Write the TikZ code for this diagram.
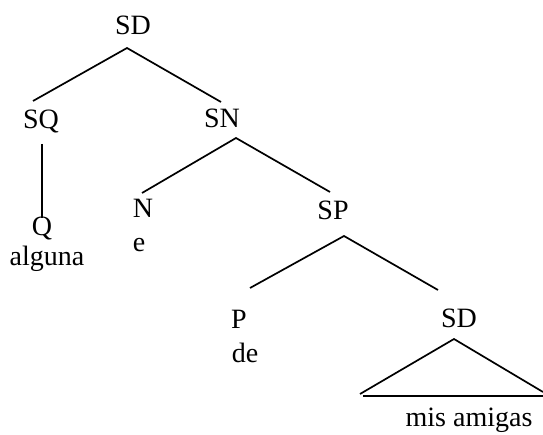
\documentclass[tikz,border=0pt]{standalone}
\usepackage{fontspec}
\setmainfont{Liberation Serif}
\usetikzlibrary{calc}
\begin{document}
\begin{tikzpicture}[x=1pt,y=-1pt,
  lab/.style={anchor=base,inner sep=0pt,font=\fontsize{28}{34}\selectfont},
  edge/.style={line width=1.7pt}]
\useasboundingbox (0,0) rectangle (543,435);
\node[lab] (SDa) at (133,35) {SD};
\node[lab] (SQ) at (41,129) {SQ};
\node[lab] (SN) at (222,128) {SN};
\node[lab] (Q) at (42,236) {Q};
\node[lab] (alg) at (47,266) {alguna};
\node[lab] (N) at (143,218) {N};
\node[lab] (e) at (139,252) {e};
\node[lab] (SP) at (333,220) {SP};
\node[lab] (P) at (239,328) {P};
\node[lab] (de) at (245,362) {de};
\node[lab] (SDb) at (459,327) {SD};
\node[lab] (mis) at (469,426) {mis amigas};
% SD -> SQ, SN
\draw[edge] ($(SQ.base)+(-8,-28)$) -- ($(SDa.base)+(-6,13)$) -- ($(SN.base)+(-1,-26)$);
% SQ -> Q
\draw[edge] ($(SQ.base)+(0.7,15)$) -- ($(Q.base)+(-0.3,-18)$);
% SN -> N, SP
\draw[edge] ($(N.base)+(-1,-25)$) -- ($(SN.base)+(14,10)$) -- ($(SP.base)+(-3,-28)$);
% SP -> P, SD
\draw[edge] ($(P.base)+(11,-40)$) -- ($(SP.base)+(11,16)$) -- ($(SDb.base)+(-21,-37)$);
% triangle
\draw[edge] ($(mis.base)+(-109,-32)$) -- ($(SDb.base)+(-5,12)$) -- ($(mis.base)+(74,-34)$);
\draw[line width=2.4pt] ($(mis.base)+(-106,-30)$) -- ($(mis.base)+(74,-30)$);
\end{tikzpicture}
\end{document}
